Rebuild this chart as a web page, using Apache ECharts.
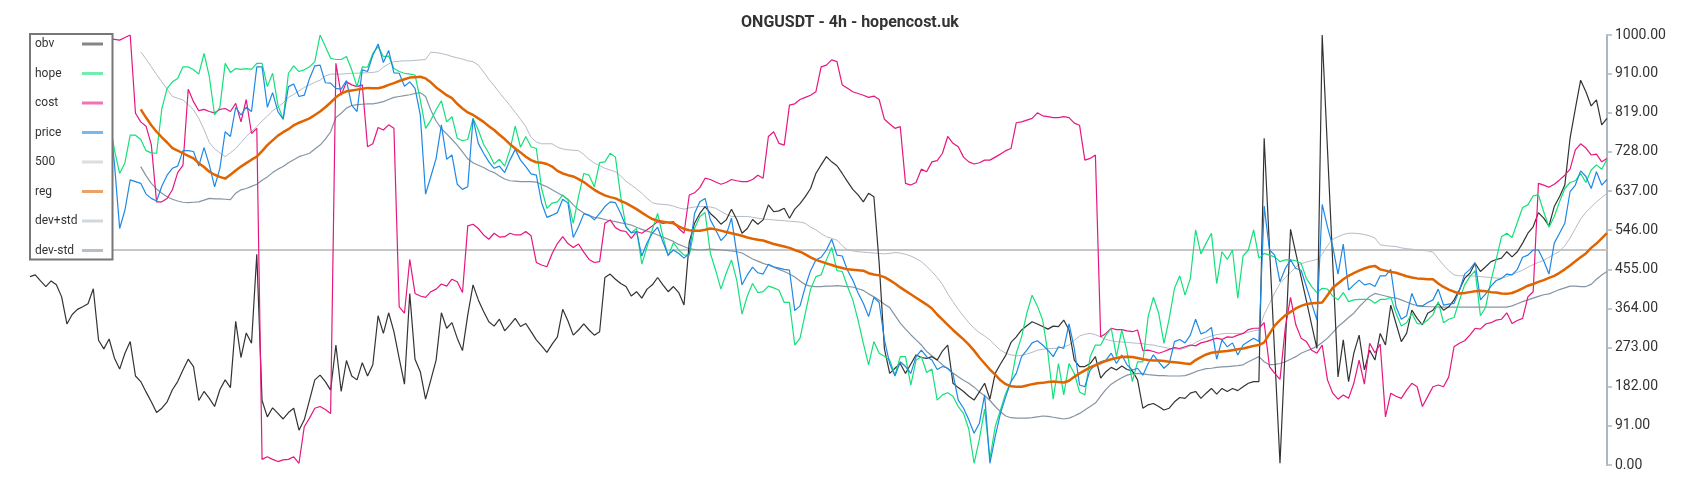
<!DOCTYPE html>
<html>
<head>
<meta charset="utf-8">
<script src="https://cdn.jsdelivr.net/npm/echarts@6/dist/echarts.min.js"></script>
<style>
html,body{margin:0;padding:0;background:#fff;}
#chart{width:1700px;height:500px;}
</style>
</head>
<body>
<div id="chart"></div>
<script>
// ---- data ----
const obv = [
438,442,428,415,428,419,391,328,350,362,
368,375,410,290,270,293,249,223,260,287,
207,194,170,147,122,132,147,175,194,221,
246,229,150,171,155,136,175,198,180,334,
250,307,283,490,150,112,133,120,107,122,
132,81,105,151,198,209,194,174,279,171,
243,207,198,238,207,233,347,306,354,310,
248,188,399,246,217,153,198,244,354,318,
331,295,266,349,419,384,357,333,323,339,
312,326,341,322,329,310,291,277,262,281,
298,362,335,302,314,328,314,302,310,436,
444,432,422,415,393,403,388,409,419,436,
419,403,415,401,372,519,562,585,601,585,
574,560,570,595,571,539,550,571,560,570,
605,589,591,597,574,595,608,624,643,678,
698,717,705,696,678,659,641,628,612,632,
624,470,270,213,225,236,213,235,256,250,
248,252,244,265,279,190,180,171,160,151,
170,190,153,213,235,255,285,298,314,324,
333,328,322,316,323,322,337,314,244,229,
229,236,252,202,217,227,221,230,222,219,
198,132,140,143,136,128,132,147,157,155,
167,171,155,167,178,165,178,171,178,173,
182,190,194,194,760,508,256,4,276,548,
493,437,382,326,271,1000,735,470,205,291,
194,260,302,221,267,244,306,279,372,329,
287,306,360,341,326,353,360,376,360,368,
384,407,434,446,469,450,461,473,478,481,
496,484,496,516,539,554,587,574,556,601,
624,651,760,829,895,868,835,849,791,806
];
const hope = [
840,820,850,800,760,790,830,810,780,770,
800,830,850,820,800,810,733,678,703,767,
767,757,731,726,725,829,876,891,899,926,
926,919,909,957,903,814,832,934,913,922,
920,922,920,934,934,880,911,837,804,911,
928,915,919,926,938,1000,973,946,943,943,
950,919,880,926,925,957,973,950,951,922,
915,911,909,907,849,783,802,826,847,798,
810,760,754,757,806,779,746,725,700,711,
695,733,788,739,764,740,736,643,597,609,
612,628,616,562,624,678,674,647,703,705,
725,716,624,554,540,550,467,508,548,585,
531,486,517,500,488,488,550,578,587,492,
453,409,446,477,430,351,393,422,401,403,
416,412,407,378,378,279,295,353,409,438,
442,477,506,452,450,415,384,337,283,233,
287,260,253,244,209,252,252,186,244,252,
215,223,151,163,168,160,136,120,83,4,
60,130,15,89,128,167,194,260,298,353,
395,370,337,260,153,236,163,236,213,170,
163,252,279,279,302,318,252,314,264,194,
240,240,345,390,353,283,341,411,440,395,
434,547,491,516,539,422,496,478,500,388,
486,500,547,481,492,488,484,473,477,477,
475,469,434,415,401,411,409,393,384,401,
380,384,385,385,385,376,385,385,390,353,
323,331,353,329,328,337,349,380,331,339,
343,382,419,438,452,347,367,429,478,531,
539,529,564,599,605,626,628,589,553,578,
612,643,657,661,678,657,686,698,688,711
];
const cost = [
985,990,995,1000,995,990,985,990,995,998,
992,995,990,985,990,992,990,988,994,1000,
818,798,788,745,612,612,620,640,680,697,
874,845,824,827,822,819,827,829,822,841,
798,850,771,783,13,19,13,8,12,13,
19,4,89,109,132,136,129,120,934,860,
891,884,880,884,740,747,785,779,791,783,
368,353,478,399,393,390,403,409,421,416,
432,426,401,556,560,550,535,525,539,530,
531,539,535,535,543,533,471,465,461,492,
515,531,515,506,514,495,478,471,473,562,
570,552,545,543,527,543,539,547,556,566,
562,564,566,550,539,628,633,645,667,664,
658,653,657,664,661,659,659,664,674,667,
764,775,748,744,837,840,850,855,860,868,
926,930,942,938,884,876,868,864,860,855,
858,850,804,793,783,787,655,651,657,688,
682,705,708,725,764,748,740,716,705,700,
703,709,709,716,723,731,736,796,798,802,
806,819,812,810,808,808,810,808,795,790,
709,713,721,298,306,318,315,315,312,310,
314,266,267,264,260,264,269,273,271,275,
279,277,284,287,291,295,292,298,297,302,
306,315,318,318,331,229,213,199,319,390,
326,295,287,267,260,279,198,167,153,163,
155,190,244,188,283,261,281,112,167,160,
155,174,190,182,136,159,182,186,182,205,
275,283,289,302,318,316,328,331,337,339,
354,329,336,341,391,403,655,651,646,653,
663,674,688,733,747,737,721,723,705,713
];
const price = [
700,720,690,740,760,730,700,680,720,750,
770,740,720,760,790,818,702,550,593,663,
659,655,630,620,614,649,674,690,695,731,
731,729,695,738,698,647,690,775,764,832,
814,832,822,926,926,832,866,822,804,880,
886,857,860,899,928,930,889,888,876,874,
894,837,822,919,915,953,979,936,964,912,
911,881,891,876,814,630,671,713,791,711,
721,653,641,647,806,748,725,705,690,695,
680,709,734,709,694,677,674,610,576,581,
587,618,609,529,554,584,581,570,585,601,
612,610,585,554,540,543,486,517,539,553,
519,488,500,492,481,492,585,612,620,570,
547,522,535,574,492,419,442,460,447,444,
467,461,458,455,453,359,370,415,452,477,
483,500,525,488,486,453,430,400,376,345,
390,378,291,236,207,240,229,213,252,267,
252,244,222,229,225,212,151,132,105,74,
97,163,4,66,120,159,194,213,252,267,
284,289,279,267,252,275,271,328,271,186,
182,221,233,240,244,260,236,256,233,221,
225,209,236,256,240,225,236,287,292,284,
302,339,305,310,320,246,291,275,284,256,
279,287,295,287,602,500,488,426,457,477,
457,453,415,376,337,606,554,508,444,514,
407,419,430,419,422,415,440,440,455,368,
339,347,399,370,370,378,384,409,372,374,
376,405,444,455,471,384,398,416,429,434,
444,442,455,483,488,500,500,475,444,516,
539,562,636,651,684,671,643,682,651,664
];
// indicator series start after a warm-up window
const indicatorStart = 21;
const reg = [
827,808,790,775,762,750,737,731,725,719,
713,702,693,682,675,670,666,675,685,694,
702,710,717,730,744,755,766,774,781,790,
796,801,806,814,822,832,843,855,864,869,
871,873,875,877,876,876,879,884,888,893,
897,901,902,903,899,890,878,869,860,853,
840,829,820,814,806,798,788,779,768,758,
746,736,727,717,709,704,703,700,694,684,
678,674,671,665,658,649,640,633,627,623,
620,614,609,602,595,587,579,572,568,566,
564,562,555,549,546,545,545,547,550,548,
545,542,539,536,533,529,526,524,522,518,
514,511,508,505,500,496,490,483,477,473,
469,465,461,458,455,454,453,452,446,443,
441,437,430,422,413,405,397,389,381,373,
364,350,338,326,314,303,292,280,266,250,
236,222,210,197,188,183,182,182,185,188,
190,191,193,194,193,192,196,205,213,220,
227,232,237,242,246,249,251,252,251,249,
246,244,243,243,242,240,239,238,236,235,
244,251,257,261,263,264,265,267,269,271,
274,277,279,285,305,324,337,348,356,364,
370,374,376,377,378,395,412,422,432,440,
446,452,457,461,463,455,452,449,447,443,
439,436,434,433,432,432,422,414,408,403,
399,400,402,404,405,404,402,401,399,398,
400,405,411,417,421,426,430,435,440,447,
455,464,474,483,492,505,515,527,539
];
const devPlus = [
961,944,926,908,891,874,857,853,849,838,
826,806,780,750,735,726,717,726,736,750,
764,776,787,800,811,824,832,842,855,862,
870,878,884,890,895,905,909,909,909,910,
911,911,912,912,913,915,925,933,938,939,
940,940,941,942,943,960,959,957,954,950,
947,944,940,938,930,914,897,882,866,851,
836,820,804,787,762,751,747,747,747,739,
735,733,732,731,722,711,702,696,690,686,
682,672,660,651,642,632,620,610,607,606,
605,602,598,595,598,600,601,601,600,597,
590,583,578,578,578,578,576,574,572,571,
570,569,568,567,566,565,562,553,547,538,
531,527,523,510,500,498,496,495,494,493,
492,491,492,494,493,490,486,480,473,462,
450,436,420,398,380,362,346,331,318,308,
300,291,278,267,260,256,254,255,258,262,
267,269,271,271,272,275,279,290,300,304,
306,303,298,292,289,287,286,285,284,283,
282,280,279,276,274,271,270,269,272,277,
285,291,296,300,303,305,306,306,306,306,
309,312,314,350,375,400,422,436,448,460,
468,472,475,478,490,510,525,531,536,539,
539,538,536,533,528,512,510,509,508,505,
503,502,500,499,498,495,480,465,452,442,
440,440,440,439,438,437,436,435,434,438,
443,448,453,460,466,471,476,483,490,497,
510,528,550,572,588,600,612,622,632
];
const devMinus = [
694,673,655,642,632,624,618,614,611,610,
611,612,616,620,619,619,618,617,632,640,
643,648,653,662,670,680,688,694,703,710,
717,721,725,735,744,758,775,808,818,830,
836,838,839,840,840,842,845,850,855,857,
859,861,864,866,857,825,800,782,770,757,
744,728,712,703,697,692,685,680,672,665,
661,660,659,659,659,658,652,647,640,633,
626,618,605,594,586,580,576,574,571,568,
566,563,561,558,553,548,544,540,535,530,
525,520,513,508,503,501,500,501,502,501,
500,499,498,496,493,486,479,474,469,465,
460,455,450,444,437,428,419,416,415,415,
416,416,417,416,415,414,410,406,398,391,
383,374,366,348,330,316,303,291,279,264,
254,244,233,224,214,205,197,190,181,170,
161,150,136,124,114,110,109,109,109,110,
112,114,113,111,109,107,109,114,120,128,
136,144,160,176,188,196,203,209,212,213,
212,210,209,208,208,207,207,207,208,212,
217,221,224,225,227,228,229,230,231,233,
240,246,252,240,233,234,236,240,246,252,
260,265,270,276,285,295,308,322,332,343,
353,368,380,392,399,396,393,390,388,384,
379,374,371,369,368,368,367,367,367,367,
367,367,367,367,367,367,367,367,367,367,
370,375,380,384,388,392,396,398,403,408,
412,416,416,415,415,420,432,442,450
];
const level500 = 500;
const yTicksInterval = 91;
const legendNames = ['obv','hope','cost','price','500','reg','dev+std','dev-std'];
const titleText = 'ONGUSDT - 4h - hopencost.uk';

// ---- build chart ----
const categories = obv.map((_, i) => String(i));
const pad = arr => new Array(indicatorStart).fill(null).concat(arr);
const line500 = categories.map(() => level500);

function lineSeries(name, data, color, width, z) {
  return {
    name, type: 'line', data, symbol: 'none', showSymbol: false,
    lineStyle: { color, width }, itemStyle: { color },
    z, animation: false, silent: true
  };
}

const chart = echarts.init(document.getElementById('chart'), null, { renderer: 'canvas' });
chart.setOption({
  backgroundColor: '#ffffff',
  animation: false,
  title: {
    text: titleText, left: 'center', top: 10,
    textStyle: { fontFamily: 'Roboto', fontSize: 16, fontWeight: 'bold', color: '#333' }
  },
  legend: {
    data: legendNames,
    orient: 'vertical', left: 30, top: 34, align: 'right',
    itemWidth: 21, itemHeight: 14, itemGap: 17.5,
    padding: [4, 8, 3, 5],
    backgroundColor: '#ffffff', borderColor: '#777', borderWidth: 2,
    formatter: name => '{a|' + name + '}',
    textStyle: {
      fontFamily: 'Roboto', fontSize: 12, color: '#333',
      rich: { a: { width: 42, align: 'left', fontFamily: 'Roboto', fontSize: 12, color: '#333' } }
    },
    lineStyle: { width: 3, opacity: 0.6 },
    itemStyle: { opacity: 0, borderWidth: 0 },
    selectedMode: false
  },
  grid: { left: 30, right: 93, top: 35, bottom: 35 },
  xAxis: { type: 'category', data: categories, boundaryGap: false, show: false },
  yAxis: {
    type: 'value', position: 'right', min: 0, max: 1000, interval: yTicksInterval,
    axisLine: { show: true, lineStyle: { color: '#aeb6bf', width: 2 } },
    axisTick: { show: true, length: 5, lineStyle: { color: '#aeb6bf', width: 1.5 } },
    axisLabel: { formatter: v => v.toFixed(2), color: '#333', fontSize: 14, margin: 8, fontFamily: 'Roboto' },
    splitLine: { show: false }
  },
  series: [
    lineSeries('500', line500, '#c6c6c6', 2, 1),
    lineSeries('dev+std', pad(devPlus), '#b3bcc5', 1, 2),
    lineSeries('dev-std', pad(devMinus), '#8595a4', 1.2, 2),
    lineSeries('obv', obv, '#333333', 1.2, 3),
    lineSeries('cost', cost, '#e6177f', 1.2, 3),
    lineSeries('hope', hope, '#14e07a', 1.2, 3),
    lineSeries('price', price, '#1e88e5', 1.2, 3),
    lineSeries('reg', pad(reg), '#e06400', 2.5, 4)
  ]
});
</script>
</body>
</html>
